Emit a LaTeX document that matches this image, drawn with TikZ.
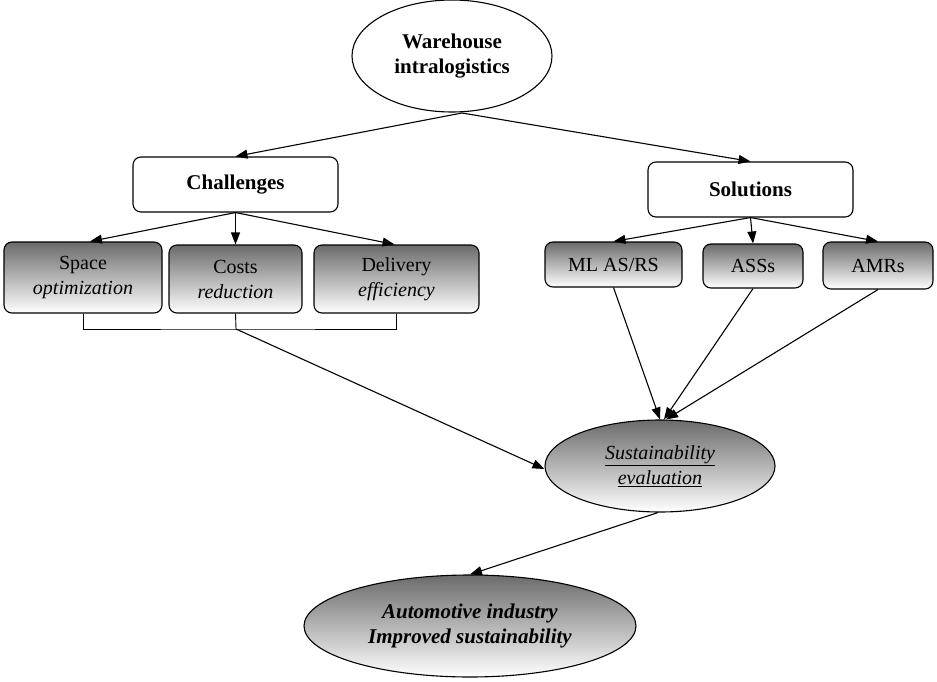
\documentclass[tikz,border=0pt]{standalone}
\usepackage{fontspec}
\setmainfont{Liberation Serif}
\usetikzlibrary{arrows.meta,shapes.geometric}
\begin{document}
\begin{tikzpicture}[x=1pt,y=-1pt,
  every node/.style={font=\fontsize{20}{25}\selectfont, align=center, inner sep=2pt},
  big/.style={font=\fontsize{21}{25}\selectfont},
  conn/.style={line width=1.1pt},
  arr/.style={conn, -{Triangle[length=12pt,width=9pt]}},
  wbox/.style={draw, line width=1.1pt, rounded corners=8pt, fill=white},
  gbox/.style={draw, line width=1.1pt, rounded corners=8pt, top color=black!58, bottom color=white},
  well/.style={draw, ellipse, line width=1.1pt, fill=white},
  gell/.style={draw, ellipse, line width=1.1pt, top color=black!58, bottom color=white}]
\useasboundingbox (0,0) rectangle (937,682);
\node[well, big, minimum width=200, minimum height=112, inner sep=0pt] (wh) at (452,56) {\textbf{Warehouse}\\\textbf{intralogistics}};
\node[wbox, big, minimum width=205, minimum height=55] (chal) at (235.5,184.5) {\textbf{Challenges}};
\node[wbox, big, minimum width=205, minimum height=55] (sol) at (750.5,189.5) {\textbf{Solutions}};
\node[gbox, minimum width=158, minimum height=71] (space) at (83,277.5) {Space\\\textit{optimization}};
\node[gbox, minimum width=133, minimum height=68] (costs) at (235.5,279) {Costs\\\textit{reduction}};
\node[gbox, minimum width=165, minimum height=68] (deliv) at (396.5,279) {Delivery\\\textit{efficiency}};
\node[gbox, minimum width=137, minimum height=45] (ml) at (613.5,264.5) {ML AS/RS};
\node[gbox, minimum width=100, minimum height=44] (ass) at (753,266) {ASSs};
\node[gbox, minimum width=110, minimum height=47] (amr) at (878,265.5) {AMRs};
\node[gell, minimum width=230, minimum height=92, inner sep=0pt] (sus) at (660,466) {\textit{\underline{Sustainability}}\\\textit{\underline{evaluation}}};
\node[gell, big, minimum width=332, minimum height=102, inner sep=0pt] (auto) at (470,626) {\textbf{\textit{Automotive industry}}\\\textbf{\textit{Improved sustainability}}};
\coordinate (whs) at (462,113);
\draw[arr] (whs) -- (chal.north);
\draw[arr] (whs) -- (sol.north);
\draw[arr] (chal.south) -- ([xshift=7]space.north);
\draw[arr] (chal.south) -- (costs.north);
\draw[arr] (chal.south) -- ([xshift=-2]deliv.north);
\draw[arr] (sol.south) -- (ml.north);
\draw[arr] (sol.south) -- (ass.north);
\draw[arr] (sol.south) -- (amr.north);
\coordinate (br) at (236,329);
\draw[conn, line width=0.9pt] (space.south) |- (br) -| (deliv.south);
\draw[conn, line width=0.9pt] (costs.south) -- (br);
\draw[arr] (br) -- ([yshift=-3]sus.west);
\draw[arr] (ml.south) -- ([xshift=0]sus.north);
\draw[arr] (ass.south) -- ([xshift=4]sus.north);
\draw[arr] (amr.south) -- ([xshift=6]sus.north);
\draw[arr] ([xshift=-2]sus.south) -- (auto.north);
\end{tikzpicture}
\end{document}
